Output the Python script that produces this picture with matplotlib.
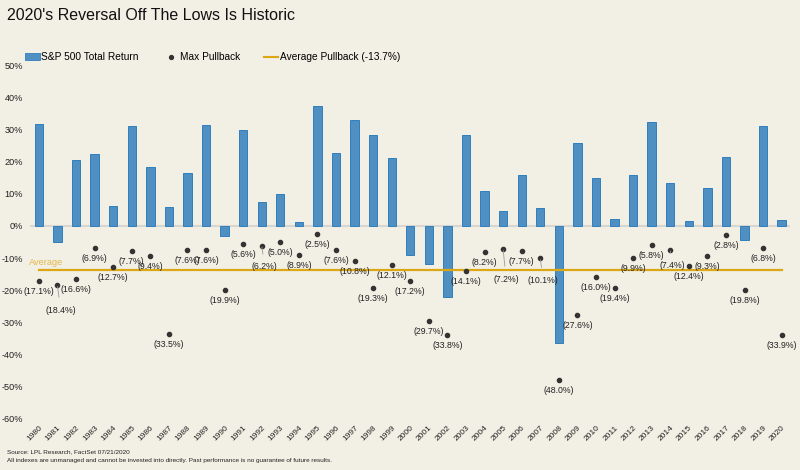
import matplotlib
matplotlib.use("Agg")
import matplotlib.pyplot as plt
from matplotlib.lines import Line2D
from matplotlib.patches import Rectangle

plt.rcParams['font.family'] = ['Liberation Sans', 'DejaVu Sans']

years = list(range(1980, 2021))
total_return = [31.6, -4.9, 20.4, 22.3, 6.2, 31.1, 18.4, 5.8, 16.5, 31.5,
                -3.1, 30.0, 7.5, 9.8, 1.3, 37.2, 22.6, 33.0, 28.2, 21.0,
                -8.9, -11.9, -22.0, 28.2, 10.8, 4.8, 15.7, 5.5, -36.5, 25.9,
                14.8, 2.1, 15.8, 32.3, 13.5, 1.4, 11.8, 21.6, -4.3, 31.2, 1.9]
max_pullback = [-17.1, -18.4, -16.6, -6.9, -12.7, -7.7, -9.4, -33.5, -7.6, -7.6,
                -19.9, -5.6, -6.2, -5.0, -8.9, -2.5, -7.6, -10.8, -19.3, -12.1,
                -17.2, -29.7, -33.8, -14.1, -8.2, -7.2, -7.7, -10.1, -48.0, -27.6,
                -16.0, -19.4, -9.9, -5.8, -7.4, -12.4, -9.3, -2.8, -19.8, -6.8, -33.9]
avg_pullback = -13.7
# labels pushed further down (with a leader line) in the original
leader_offsets = {1981: (3, -25), 1992: (3, -21), 2005: (3, -30),
                  2007: (3, -22), 2014: (2, -16)}

bg = '#F2EFE5'
bar_color = '#4F8FC2'
gold = '#DCA714'

fig = plt.figure(figsize=(8, 4.7), dpi=100, facecolor=bg)
ax = fig.add_axes([30 / 800, 1 - 418.7 / 470, 760 / 800, 353.4 / 470])
ax.set_facecolor(bg)

ax.bar(years, total_return, width=0.45, color=bar_color,
       edgecolor='#2F80BE', linewidth=0.7, zorder=2)
ax.axhline(0, color='#D8D6CE', linewidth=1.5, zorder=1)
ax.plot([years[0], years[-1]], [avg_pullback, avg_pullback],
        color=gold, linewidth=1.6, zorder=3)
ax.text(1980.41, -11.5, 'Average', color='#E2B94A',
        fontsize=6.6, va='center', ha='center', zorder=4)

ax.scatter(years, max_pullback, s=9, color='#333333', zorder=5)
for yr, v in zip(years, max_pullback):
    lab = '(%.1f%%)' % abs(v)
    if yr in leader_offsets:
        dx, dy = leader_offsets[yr]
        ax.annotate(lab, (yr, v), xytext=(dx, dy), textcoords='offset pixels',
                    ha='center', va='center', fontsize=6.3, color='#222222',
                    zorder=6,
                    arrowprops=dict(arrowstyle='-', color='#9A9A9A', lw=0.6,
                                    shrinkA=4, shrinkB=1))
    else:
        ax.annotate(lab, (yr, v), xytext=(0, -10.5), textcoords='offset pixels',
                    ha='center', va='center', fontsize=6.3, color='#222222',
                    zorder=6)

ax.set_xlim(1979.52, 2020.45)
ax.set_ylim(-60, 50)
ax.set_yticks(range(-60, 51, 10))
ax.set_yticklabels(['%d%%' % t for t in range(-60, 51, 10)], fontsize=6.6)
ax.set_xticks(years)
ax.set_xticklabels([str(y) for y in years], rotation=45, ha='right',
                   va='top', rotation_mode='anchor', fontsize=6)
ax.tick_params(axis='both', length=0, colors='#222222')
ax.tick_params(axis='y', pad=5)
ax.tick_params(axis='x', pad=4)
for s in ax.spines.values():
    s.set_visible(False)

# title
fig.text(7 / 800, 1 - 15.5 / 470, "2020's Reversal Off The Lows Is Historic",
         fontsize=11.5, color='#111111', va='center', ha='left')

# legend
ly = 1 - 56.5 / 470
fig.patches.append(Rectangle((25 / 800, ly - 3.5 / 470), 15 / 800, 7 / 470,
                             transform=fig.transFigure, facecolor=bar_color,
                             edgecolor='#2F80BE', linewidth=0.6))
fig.text(41 / 800, ly, 'S&P 500 Total Return', fontsize=7.3, va='center', ha='left')
fig.lines.append(Line2D([171 / 800], [ly], transform=fig.transFigure,
                        marker='o', markersize=2.8, color='#333333', linestyle='none'))
fig.text(180 / 800, ly, 'Max Pullback', fontsize=7.3, va='center', ha='left')
fig.lines.append(Line2D([264 / 800, 278 / 800], [ly, ly], transform=fig.transFigure,
                        color=gold, linewidth=1.5))
fig.text(280 / 800, ly, 'Average Pullback (-13.7%)', fontsize=7.3, va='center', ha='left')

# footer
fig.text(7 / 800, 1 - 452 / 470, 'Source: LPL Research, FactSet 07/21/2020',
         fontsize=4.6, va='center', ha='left', color='#222222')
fig.text(7 / 800, 1 - 460.5 / 470,
         'All indexes are unmanaged and cannot be invested into directly. '
         'Past performance is no guarantee of future results.',
         fontsize=4.6, va='center', ha='left', color='#222222')

fig.savefig('out.png', dpi=100, facecolor=bg)
